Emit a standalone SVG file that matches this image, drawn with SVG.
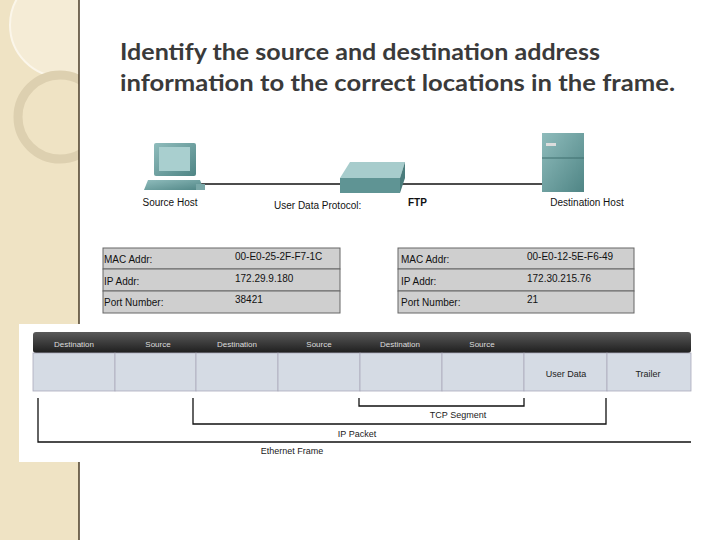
<svg xmlns="http://www.w3.org/2000/svg" width="720" height="540" viewBox="0 0 720 540">
<defs>
<linearGradient id="hdr" x1="0" y1="0" x2="0" y2="1"><stop offset="0" stop-color="#5a5a5a"/><stop offset="1" stop-color="#1e1e1e"/></linearGradient>
<linearGradient id="teal" x1="0" y1="0" x2="1" y2="1"><stop offset="0" stop-color="#8fbcbc"/><stop offset="1" stop-color="#4f8585"/></linearGradient>
<clipPath id="strip"><rect x="0" y="0" width="79" height="540"/></clipPath>
</defs>
<style>
.t{font-family:"Liberation Sans",Arial,sans-serif;font-size:10px;fill:#111}
.h{font-family:"Liberation Sans",Arial,sans-serif;font-size:8px;fill:#ddd;text-anchor:middle}
.c{font-family:"Liberation Sans",Arial,sans-serif;font-size:9px;fill:#222;text-anchor:middle}
.row{fill:#cfcfcf;stroke:#666;stroke-width:1}
.cell{fill:#d5dbe4;stroke:#aab;stroke-width:0.8}
.br{fill:none;stroke:#111;stroke-width:1.3}
</style>
<rect width="720" height="540" fill="#fff"/>
<g clip-path="url(#strip)">
<rect x="0" y="0" width="79" height="540" fill="#efe3c4"/>
<circle cx="62" cy="25" r="52" fill="#f5ecd6" stroke="#fbf6ea" stroke-width="2"/>
<circle cx="60" cy="117" r="42" fill="none" stroke="#ddd0b0" stroke-width="9"/>
</g>
<line x1="79" y1="0" x2="79" y2="540" stroke="#4a3c28" stroke-width="1.5"/>
<rect x="19" y="324" width="681" height="138" fill="#fff"/>
<g id="title" font-family="Lato,'Open Sans',sans-serif" font-weight="bold" font-size="22.5" fill="#3a3a3a">
<text x="120" y="60" textLength="480" lengthAdjust="spacingAndGlyphs">Identify the source and destination address</text>
<text x="120" y="91" textLength="555" lengthAdjust="spacingAndGlyphs">information to the correct locations in the frame.</text>
</g>
<g id="connectors" stroke="#111" stroke-width="1.5">
<line x1="200" y1="184" x2="545" y2="184"/>
</g>
<g id="source-host">
<rect x="154" y="143" width="42" height="33" rx="2" fill="url(#teal)"/>
<rect x="159" y="147" width="31" height="24" fill="#a9cfcf"/>
<polygon points="148,180 200,180 204,190 144,190" fill="url(#teal)"/>
<rect x="196" y="184" width="9" height="6" fill="#7aa8a8"/>
<text class="t" x="170" y="206" text-anchor="middle">Source Host</text>
</g>
<g id="switch">
<polygon points="350,162 405,162 400,178 340,178" fill="#a7cccc"/>
<rect x="340" y="178" width="60" height="15" fill="#5f9494"/>
<polygon points="400,178 405,162 405,178 400,193" fill="#4a7c7c"/>
<text class="t" x="274" y="209">User Data Protocol:</text>
<text class="t" x="408" y="206" font-weight="bold">FTP</text>
</g>
<g id="destination-host">
<rect x="542" y="133" width="42" height="59" fill="url(#teal)"/>
<rect x="546" y="143" width="10" height="3" fill="#ddd"/>
<line x1="542" y1="158" x2="584" y2="158" stroke="#3f6f6f"/>
<text class="t" x="587" y="206" text-anchor="middle">Destination Host</text>
</g>
<g id="source-table">
<rect class="row" x="103" y="248" width="237" height="21"/>
<rect class="row" x="103" y="269" width="237" height="22"/>
<rect class="row" x="103" y="291" width="237" height="22"/>
<text class="t" x="104" y="263">MAC Addr:</text><text class="t" x="235" y="260">00-E0-25-2F-F7-1C</text>
<text class="t" x="104" y="285">IP Addr:</text><text class="t" x="235" y="282">172.29.9.180</text>
<text class="t" x="104" y="306">Port Number:</text><text class="t" x="235" y="303">38421</text>
</g>
<g id="dest-table">
<rect class="row" x="398" y="248" width="236" height="21"/>
<rect class="row" x="398" y="269" width="236" height="22"/>
<rect class="row" x="398" y="291" width="236" height="22"/>
<text class="t" x="401" y="263">MAC Addr:</text><text class="t" x="527" y="260">00-E0-12-5E-F6-49</text>
<text class="t" x="401" y="285">IP Addr:</text><text class="t" x="527" y="282">172.30.215.76</text>
<text class="t" x="401" y="306">Port Number:</text><text class="t" x="527" y="303">21</text>
</g>
<g id="frame">
<rect x="33" y="332" width="658" height="21" rx="3" fill="url(#hdr)"/>
<rect class="cell" x="33" y="353" width="82" height="38"/>
<rect class="cell" x="115" y="353" width="81" height="38"/>
<rect class="cell" x="196" y="353" width="82" height="38"/>
<rect class="cell" x="278" y="353" width="82" height="38"/>
<rect class="cell" x="360" y="353" width="82" height="38"/>
<rect class="cell" x="442" y="353" width="82" height="38"/>
<rect class="cell" x="524" y="353" width="83" height="38"/>
<rect class="cell" x="607" y="353" width="84" height="38"/>
<text class="h" x="74" y="347">Destination</text>
<text class="h" x="158" y="347">Source</text>
<text class="h" x="237" y="347">Destination</text>
<text class="h" x="319" y="347">Source</text>
<text class="h" x="400" y="347">Destination</text>
<text class="h" x="482" y="347">Source</text>
<text class="c" x="566" y="377">User Data</text>
<text class="c" x="648" y="377">Trailer</text>
</g>
<g id="brackets">
<polyline class="br" points="359,398 359,406 524,406 524,398"/>
<polyline class="br" points="193,398 193,424 606,424 606,398"/>
<polyline class="br" points="38,398 38,442 691,442"/>
<text class="c" x="458" y="418">TCP Segment</text>
<text class="c" x="357" y="437">IP Packet</text>
<text class="c" x="292" y="454">Ethernet Frame</text>
</g>
</svg>
